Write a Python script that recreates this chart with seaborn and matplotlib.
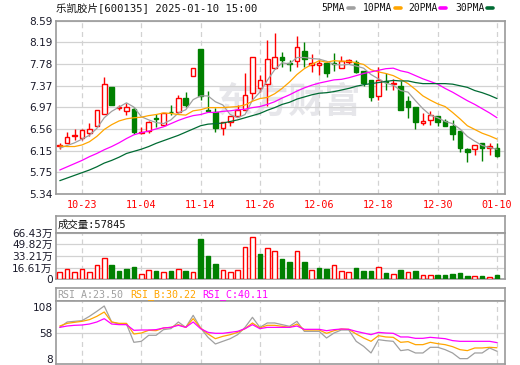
import numpy as np
import pandas as pd
import matplotlib
matplotlib.use('Agg')
import matplotlib.pyplot as plt
import seaborn as sns
from matplotlib.lines import Line2D

sns.set_theme(style='white')
plt.rcParams['font.family'] = ['DejaVu Sans', 'Noto Sans CJK SC']

# ---------------- data ----------------
dates = ['10-18', '10-21', '10-22', '10-23', '10-24', '10-25', '10-28', '10-29', '10-30', '10-31',
         '11-01', '11-04', '11-05', '11-06', '11-07', '11-08', '11-11', '11-12', '11-13', '11-14',
         '11-15', '11-18', '11-19', '11-20', '11-21', '11-22', '11-25', '11-26', '11-27', '11-28',
         '11-29', '12-02', '12-03', '12-04', '12-05', '12-06', '12-09', '12-10', '12-11', '12-12',
         '12-13', '12-16', '12-17', '12-18', '12-19', '12-20', '12-23', '12-24', '12-25', '12-26',
         '12-27', '12-30', '12-31', '01-02', '01-03', '01-06', '01-07', '01-08', '01-09', '01-10']
opens = [6.24, 6.30, 6.43, 6.39, 6.48, 6.61, 6.84, 7.35, 6.96, 6.89,
         6.94, 6.49, 6.53, 6.77, 6.64, 6.88, 6.87, 7.14, 7.56, 8.05,
         6.91, 6.87, 6.57, 6.69, 6.81, 6.92, 7.23, 7.32, 7.40, 7.70,
         7.91, 7.79, 7.84, 8.02, 7.76, 7.76, 7.79, 7.79, 7.70, 7.82,
         7.82, 7.65, 7.48, 7.17, 7.46, 7.41, 7.37, 7.08, 6.97, 6.68,
         6.72, 6.81, 6.70, 6.61, 6.52, 6.18, 6.18, 6.29, 6.20, 6.20]
highs = [6.30, 6.50, 6.55, 6.56, 6.67, 6.92, 7.53, 7.35, 7.01, 7.05,
         6.97, 6.60, 6.70, 6.84, 6.86, 7.01, 7.20, 7.26, 7.70, 8.05,
         7.28, 6.95, 6.69, 6.81, 7.00, 7.60, 7.90, 7.58, 8.22, 8.35,
         8.01, 7.86, 8.30, 8.19, 7.96, 7.86, 7.82, 7.98, 7.92, 7.88,
         7.85, 7.65, 7.48, 7.73, 7.60, 7.49, 7.45, 7.18, 6.97, 6.86,
         6.90, 6.81, 6.75, 6.73, 6.52, 6.21, 6.25, 6.30, 6.30, 6.30]
lows = [6.18, 6.30, 6.35, 6.35, 6.43, 6.61, 6.84, 7.01, 6.91, 6.83,
        6.46, 6.46, 6.49, 6.60, 6.62, 6.83, 6.86, 6.97, 7.56, 7.11,
        6.90, 6.50, 6.45, 6.62, 6.79, 6.91, 7.11, 7.26, 6.99, 7.69,
        7.73, 7.65, 7.72, 7.73, 7.62, 7.58, 7.53, 7.64, 7.70, 7.78,
        7.60, 7.37, 7.08, 7.11, 7.29, 7.29, 6.91, 6.77, 6.55, 6.64,
        6.64, 6.62, 6.61, 6.36, 6.12, 5.94, 6.08, 5.96, 6.08, 6.04]
closes = [6.25, 6.41, 6.44, 6.54, 6.56, 6.92, 7.40, 7.01, 6.97, 6.97,
          6.50, 6.51, 6.69, 6.74, 6.85, 6.87, 7.14, 7.00, 7.70, 7.18,
          6.90, 6.57, 6.69, 6.80, 6.91, 7.19, 7.90, 7.47, 7.88, 7.90,
          7.85, 7.78, 8.09, 7.88, 7.80, 7.80, 7.60, 7.77, 7.84, 7.85,
          7.62, 7.42, 7.15, 7.48, 7.44, 7.43, 6.92, 6.97, 6.69, 6.70,
          6.82, 6.69, 6.61, 6.46, 6.20, 6.13, 6.25, 6.21, 6.24, 6.05]
ma5 = [6.20, 6.25, 6.30, 6.37, 6.44, 6.57, 6.77, 6.89, 6.97, 7.05,
       6.97, 6.79, 6.73, 6.68, 6.66, 6.73, 6.86, 6.92, 7.11, 7.18,
       7.18, 7.07, 7.01, 6.83, 6.77, 6.83, 7.10, 7.25, 7.47, 7.67,
       7.80, 7.78, 7.90, 7.90, 7.88, 7.87, 7.83, 7.77, 7.76, 7.77,
       7.74, 7.70, 7.58, 7.50, 7.42, 7.38, 7.28, 7.25, 7.09, 6.94,
       6.82, 6.77, 6.70, 6.66, 6.56, 6.42, 6.33, 6.25, 6.21, 6.18]
ma10 = [6.24, 6.23, 6.23, 6.26, 6.32, 6.42, 6.55, 6.64, 6.71, 6.75,
        6.77, 6.78, 6.81, 6.83, 6.86, 6.85, 6.83, 6.82, 6.90, 6.92,
        6.96, 6.96, 6.96, 6.97, 6.98, 7.01, 7.08, 7.13, 7.15, 7.22,
        7.32, 7.44, 7.58, 7.69, 7.77, 7.84, 7.81, 7.84, 7.83, 7.83,
        7.80, 7.77, 7.67, 7.63, 7.60, 7.56, 7.49, 7.41, 7.30, 7.18,
        7.10, 7.03, 6.98, 6.87, 6.75, 6.62, 6.55, 6.48, 6.43, 6.37]
ma20 = [5.79, 5.85, 5.91, 5.97, 6.04, 6.10, 6.17, 6.23, 6.30, 6.38,
        6.45, 6.49, 6.52, 6.56, 6.60, 6.66, 6.72, 6.77, 6.81, 6.83,
        6.87, 6.87, 6.89, 6.90, 6.92, 6.93, 6.96, 6.98, 7.02, 7.07,
        7.14, 7.20, 7.27, 7.33, 7.38, 7.42, 7.45, 7.48, 7.49, 7.52,
        7.56, 7.60, 7.63, 7.66, 7.69, 7.70, 7.65, 7.62, 7.56, 7.50,
        7.45, 7.40, 7.32, 7.25, 7.17, 7.09, 7.02, 6.94, 6.86, 6.77]
ma30 = [5.59, 5.64, 5.69, 5.74, 5.79, 5.85, 5.92, 5.97, 6.03, 6.10,
        6.14, 6.18, 6.23, 6.29, 6.34, 6.39, 6.44, 6.50, 6.56, 6.62,
        6.65, 6.66, 6.67, 6.70, 6.73, 6.77, 6.81, 6.85, 6.91, 6.96,
        7.02, 7.06, 7.12, 7.16, 7.20, 7.23, 7.24, 7.26, 7.29, 7.32,
        7.36, 7.39, 7.41, 7.43, 7.45, 7.47, 7.46, 7.46, 7.43, 7.41,
        7.41, 7.41, 7.41, 7.40, 7.37, 7.34, 7.28, 7.24, 7.19, 7.13]
volume_wan = [10.4, 14.2, 10.0, 14.2, 10.0, 19.9, 29.9, 20.4, 11.9, 14.7,
              17.6, 7.1, 12.8, 11.9, 10.4, 11.9, 15.2, 11.9, 10.4, 57.4,
              33.2, 21.8, 12.8, 10.4, 12.8, 45.6, 59.8, 36.1, 44.1, 39.9,
              29.0, 24.7, 39.9, 24.7, 12.8, 16.1, 14.7, 19.9, 11.9, 10.0,
              16.1, 11.9, 11.9, 17.1, 9.0, 7.1, 13.3, 10.4, 11.9, 5.7,
              5.7, 6.2, 6.2, 7.6, 9.0, 4.7, 4.3, 4.7, 3.3, 5.78]
volume_up = [1, 1, 1, 1, 1, 1, 1, 0, 0, 0, 0, 1, 1, 0, 1, 0, 1, 0, 1, 0,
             0, 0, 1, 1, 1, 1, 1, 0, 1, 1, 0, 0, 1, 0, 1, 0, 0, 1, 1, 1,
             0, 0, 0, 1, 0, 1, 0, 1, 0, 1, 1, 0, 0, 0, 0, 0, 1, 0, 1, 0]
rsi_a = [69.5, 79.8, 81.1, 82.4, 90.7, 100.3, 110.6, 79.8, 75.9, 75.9,
         40.7, 42.6, 54.2, 54.2, 65.1, 67.0, 79.8, 69.5, 92.6, 68.3,
         50.3, 37.5, 42.6, 47.7, 55.4, 69.5, 88.8, 69.5, 77.9, 77.9,
         74.7, 71.5, 81.1, 61.8, 61.8, 61.8, 49.0, 58.6, 64.4, 64.4,
         42.6, 33.0, 20.2, 45.8, 43.9, 42.6, 24.7, 26.6, 20.2, 20.2,
         31.1, 31.1, 26.6, 20.2, 9.3, 9.3, 20.2, 20.2, 29.8, 23.5]
rsi_b = [72.1, 77.2, 79.2, 81.1, 84.3, 90.7, 99.0, 79.8, 77.2, 77.2,
         56.7, 58.6, 63.8, 63.1, 68.3, 69.5, 74.7, 69.5, 86.2, 68.3,
         56.7, 47.7, 52.2, 55.4, 59.9, 67.0, 77.9, 68.3, 73.4, 73.4,
         71.5, 69.5, 75.9, 64.4, 64.4, 64.4, 58.0, 63.1, 66.3, 65.7,
         56.7, 49.0, 42.6, 53.5, 51.0, 50.3, 40.7, 42.0, 36.2, 36.2,
         40.7, 38.1, 36.2, 32.4, 26.6, 24.7, 29.8, 29.8, 31.1, 30.22]
rsi_c = [69.5, 72.1, 73.4, 74.0, 75.9, 79.8, 86.2, 75.9, 74.7, 74.7,
         63.8, 64.4, 64.4, 65.1, 68.3, 69.5, 73.4, 69.5, 79.8, 67.0,
         59.9, 58.0, 58.0, 59.9, 61.8, 67.0, 74.7, 67.0, 69.5, 69.5,
         69.5, 69.5, 72.1, 65.7, 65.7, 65.7, 63.1, 65.1, 66.3, 65.7,
         61.8, 58.6, 55.4, 59.9, 58.6, 58.0, 51.0, 51.0, 48.4, 48.4,
         50.3, 49.0, 47.7, 44.0, 42.6, 42.6, 42.6, 42.6, 42.6, 40.11]
price_ticks = [5.34, 5.75, 6.15, 6.56, 6.97, 7.37, 7.78, 8.19, 8.59]
vol_ticks = [0, 16.61, 33.21, 49.82, 66.43]
vol_tick_labels = ['0', '16.61万', '33.21万', '49.82万', '66.43万']
rsi_ticks = [8, 58, 108]
date_ticks = ['10-23', '11-04', '11-14', '11-26', '12-06', '12-18', '12-30', '01-10']
title = '乐凯胶片[600135] 2025-01-10 15:00'
vol_title = '成交量:57845'
rsi_titles = ['RSI_A:23.50', 'RSI_B:30.22', 'RSI_C:40.11']
ma_names = ['5PMA', '10PMA', '20PMA', '30PMA']

# ---------------- styling ----------------
RED = '#ff0000'
GREEN = '#008000'
MA_COLORS = ['#a0a0a0', '#ffa500', '#ff00ff', '#006b33']
RSI_COLORS = ['#a0a0a0', '#ffa500', '#ff00ff']
BORDER = '#9a9a9a'
GRID = '#d2d2d2'
MONO = ['DejaVu Sans Mono', 'Noto Sans CJK SC']

df = pd.DataFrame({'idx': np.arange(len(dates)), 'date': dates, 'open': opens,
                   'high': highs, 'low': lows, 'close': closes,
                   'ma5': ma5, 'ma10': ma10, 'ma20': ma20, 'ma30': ma30,
                   'vol': volume_wan, 'vup': volume_up,
                   'rsi_a': rsi_a, 'rsi_b': rsi_b, 'rsi_c': rsi_c})
tick_pos = [dates.index(d) for d in date_ticks]

W, H = 520, 365
fig = plt.figure(figsize=(W / 100, H / 100), dpi=100)
fig.patch.set_facecolor('white')

def frac(top, bottom):
    return 1 - bottom / H, (bottom - top) / H

L, Wd = 56 / W, 449 / W
b, h = frac(20.7, 194)
ax = fig.add_axes([L, b, Wd, h])
b, h = frac(216.5, 232.7)
axvh = fig.add_axes([L, b, Wd, h])
b, h = frac(232.7, 279.3)
axv = fig.add_axes([L, b, Wd, h])
b, h = frac(287.7, 301)
axrh = fig.add_axes([L, b, Wd, h])
b, h = frac(301, 364.3)
axr = fig.add_axes([L, b, Wd, h])

XL = (-0.51, 60.08)
for a in (ax, axvh, axv, axrh, axr):
    a.set_facecolor('white')
    for s in a.spines.values():
        s.set_color(BORDER)
        s.set_linewidth(1.2)
    a.set_xlim(*XL)
for a in (axvh, axrh):
    a.set_xticks([])
    a.set_yticks([])

def style_grid(a):
    a.set_xticks(tick_pos)
    a.grid(axis='x', color=GRID, linestyle=(0, (4, 3)), linewidth=0.9)
    a.grid(axis='y', color=GRID, linestyle='-', linewidth=0.9)
    a.set_axisbelow(True)
    a.tick_params(axis='both', length=0)

# ---------------- main price panel ----------------
style_grid(ax)
ax.set_ylim(5.34, 8.59)
ax.set_yticks(price_ticks)
ax.set_yticklabels([f'{t:.2f}' for t in price_ticks])
ax.set_xticklabels(date_ticks)
ax.tick_params(axis='y', labelsize=7.6, labelcolor='#1a1a2a', pad=2.5)
ax.tick_params(axis='x', labelsize=7.3, labelcolor=RED, pad=4)
for lbl in ax.get_xticklabels():
    lbl.set_fontfamily('DejaVu Sans Mono')

ax.text(31, 7.07, '东方财富', fontsize=26, color='#e6e6ea', ha='center', va='center',
        fontweight='bold', family='Noto Sans CJK SC', zorder=0.5)

up = df['close'] >= df['open']
cols = np.where(up, RED, GREEN)
ax.vlines(df['idx'], df['low'], df['high'], colors=cols, linewidth=1.0, zorder=2)
body_bottom = np.minimum(df['open'], df['close'])
body_h = np.maximum(np.abs(df['close'] - df['open']), 0.006)
ax.bar(df['idx'], body_h, bottom=body_bottom, width=0.62,
       color=np.where(up, 'white', GREEN), edgecolor=cols, linewidth=1.0, zorder=3)

for col, c in zip(['ma5', 'ma10', 'ma20', 'ma30'], MA_COLORS):
    sns.lineplot(data=df, x='idx', y=col, ax=ax, color=c, linewidth=0.9, zorder=4)
ax.set_xlabel('')
ax.set_ylabel('')
ax.set_xlim(*XL)

# ---------------- volume panel ----------------
style_grid(axv)
axv.set_ylim(0, 66.43)
axv.set_yticks(vol_ticks)
axv.set_yticklabels(vol_tick_labels)
axv.set_xticklabels([])
axv.tick_params(axis='y', labelsize=7.6, labelcolor='#1a1a2a', pad=2.5)
vcols = np.where(df['vup'] == 1, RED, GREEN)
axv.bar(df['idx'], df['vol'], width=0.62, color=np.where(df['vup'] == 1, 'white', GREEN),
        edgecolor=vcols, linewidth=1.0, zorder=3)
axv.set_xlim(*XL)

# ---------------- RSI panel ----------------
style_grid(axr)
axr.set_ylim(-1.6, 120.2)
axr.set_yticks(rsi_ticks)
axr.set_yticklabels([str(t) for t in rsi_ticks])
axr.set_xticklabels([])
axr.tick_params(axis='y', labelsize=7.6, labelcolor='#1a1a2a', pad=2.5)
axr.grid(axis='y', visible=False)
axr.axhline(58, color=GRID, linewidth=0.9, zorder=1)
for col, c in zip(['rsi_a', 'rsi_b', 'rsi_c'], RSI_COLORS):
    sns.lineplot(data=df, x='idx', y=col, ax=axr, color=c, linewidth=0.9, zorder=4)
axr.set_xlabel('')
axr.set_ylabel('')
axr.set_xlim(*XL)

# ---------------- header texts ----------------
fig.text(56 / W, 1 - 8 / H, title, family=MONO, fontsize=7.6, color='#111111',
         ha='left', va='center')
leg_x = [321.5, 363, 408, 455]
for name, x0, c in zip(ma_names, leg_x, MA_COLORS):
    t = fig.text(x0 / W, 1 - 7.6 / H, name, family='DejaVu Sans Mono', fontsize=7.0,
                 color='#111111', ha='left', va='center')
    n = len(name)
    xs = x0 + n * 5.85 + 3
    fig.add_artist(Line2D([xs / W, (xs + 6) / W], [1 - 7.8 / H, 1 - 7.8 / H],
                          color=c, linewidth=2.6, transform=fig.transFigure))

axvh.text(0.004, 0.5, vol_title, transform=axvh.transAxes, family=MONO, fontsize=7.5,
          color='#111111', ha='left', va='center')
rsi_x = [57, 130, 202]
for txt, x0, c in zip(rsi_titles, rsi_x, RSI_COLORS):
    fig.text(x0 / W, 1 - 294.3 / H, txt, family='DejaVu Sans Mono', fontsize=7.2,
             color=c, ha='left', va='center')

fig.savefig('out.png', dpi=100, facecolor='white')
